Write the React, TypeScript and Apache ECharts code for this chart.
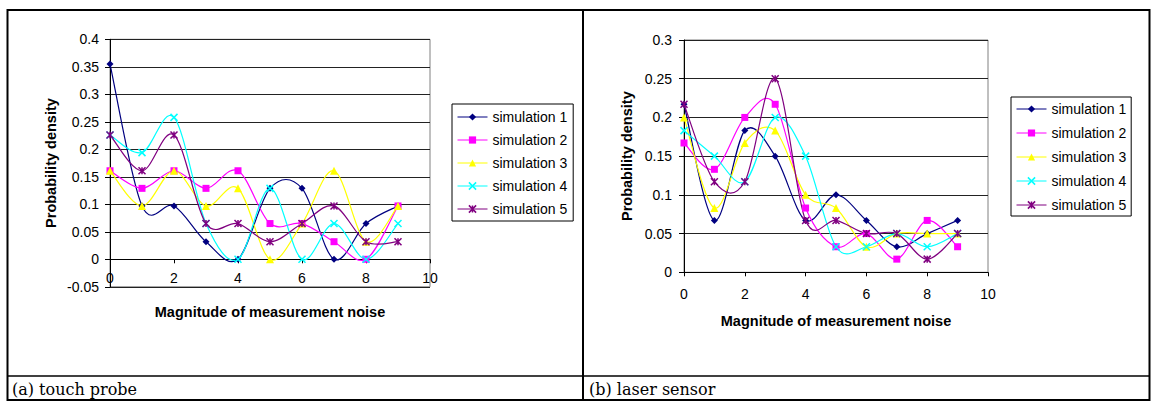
import React, { useEffect, useRef } from 'react';
import * as echarts from 'echarts';

const noiseMagnitudes = [0, 1, 2, 3, 4, 5, 6, 7, 8, 9];
const simulationNames = ['simulation 1', 'simulation 2', 'simulation 3', 'simulation 4', 'simulation 5'];

// (a) touch probe
const touchSim1 = [0.355, 0.097, 0.097, 0.032, 0, 0.129, 0.129, 0, 0.065, 0.097];
const touchSim2 = [0.161, 0.129, 0.161, 0.129, 0.161, 0.065, 0.065, 0.032, 0, 0.097];
const touchSim3 = [0.161, 0.097, 0.161, 0.097, 0.129, 0, 0.065, 0.161, 0.032, 0.097];
const touchSim4 = [0.226, 0.194, 0.258, 0.065, 0, 0.129, 0, 0.065, 0, 0.065];
const touchSim5 = [0.226, 0.161, 0.226, 0.065, 0.065, 0.032, 0.065, 0.097, 0.032, 0.032];

// (b) laser sensor
const laserSim1 = [0.217, 0.067, 0.183, 0.15, 0.067, 0.1, 0.067, 0.033, 0.05, 0.067];
const laserSim2 = [0.167, 0.133, 0.2, 0.217, 0.083, 0.033, 0.05, 0.017, 0.067, 0.033];
const laserSim3 = [0.2, 0.083, 0.167, 0.183, 0.1, 0.083, 0.033, 0.05, 0.05, 0.05];
const laserSim4 = [0.183, 0.15, 0.117, 0.2, 0.15, 0.033, 0.033, 0.05, 0.033, 0.05];
const laserSim5 = [0.217, 0.117, 0.117, 0.25, 0.067, 0.067, 0.05, 0.05, 0.017, 0.05];

const touchSeries = [touchSim1, touchSim2, touchSim3, touchSim4, touchSim5];
const laserSeries = [laserSim1, laserSim2, laserSim3, laserSim4, laserSim5];

const xAxisTitle = 'Magnitude of measurement noise';
const yAxisTitle = 'Probability density';
const captions = ['(a) touch probe', '(b) laser sensor'];

const colors = ['#000080', '#FF00FF', '#FFFF00', '#00FFFF', '#800080'];
const X_PATH = 'path://M0,0L8,8M8,0L0,8';
const STAR_PATH = 'path://M0,0L8,8M8,0L0,8M4,0L4,8';
const symbols = ['diamond', 'rect', 'triangle', X_PATH, STAR_PATH];
const symbolSizes = [7, 7, 8, 7, 7];
const strokeOnly = [false, false, false, true, true];

const FONT = '"Liberation Sans", Arial, sans-serif';

function curveSeries(values: number[], color: string, axisIndex: number) {
  return {
    type: 'custom',
    xAxisIndex: axisIndex,
    yAxisIndex: axisIndex,
    silent: true,
    z: 2,
    data: noiseMagnitudes.map((x, i) => [x, values[i]]),
    encode: { x: 0, y: 1 },
    renderItem: (params: any, api: any) => {
      const i = params.dataIndexInside;
      const n = params.dataInsideLength;
      if (i >= n - 1) return null;
      const pt = (j: number) => {
        const k = Math.max(0, Math.min(n - 1, j));
        return api.coord([api.value(0, k), api.value(1, k)]);
      };
      const p0 = pt(i - 1);
      const p1 = pt(i);
      const p2 = pt(i + 1);
      const p3 = pt(i + 2);
      const c1 = [p1[0] + (p2[0] - p0[0]) / 6, p1[1] + (p2[1] - p0[1]) / 6];
      const c2 = [p2[0] - (p3[0] - p1[0]) / 6, p2[1] - (p3[1] - p1[1]) / 6];
      return {
        type: 'bezierCurve',
        shape: {
          x1: p1[0], y1: p1[1], x2: p2[0], y2: p2[1],
          cpx1: c1[0], cpy1: c1[1], cpx2: c2[0], cpy2: c2[1],
        },
        style: { stroke: color, lineWidth: 1.2, fill: 'none' },
      };
    },
  };
}

function markerSeries(values: number[], k: number, axisIndex: number) {
  const color = colors[k];
  return {
    type: 'line',
    name: simulationNames[k],
    xAxisIndex: axisIndex,
    yAxisIndex: axisIndex,
    data: noiseMagnitudes.map((x, i) => [x, values[i]]),
    symbol: symbols[k],
    symbolSize: symbolSizes[k],
    showAllSymbol: true,
    clip: false,
    z: 3,
    lineStyle: { color, width: 1, opacity: 0 },
    itemStyle: strokeOnly[k]
      ? { color, borderColor: color, borderWidth: 1.5 }
      : { color, borderWidth: 0 },
    emphasis: { disabled: true },
  };
}

const legendData = simulationNames.map((name, k) => ({
  name,
  lineStyle: { color: colors[k], width: 1, opacity: 1, type: 'solid' },
  itemStyle: strokeOnly[k]
    ? { color: colors[k], borderColor: colors[k], borderWidth: 1.5 }
    : { color: colors[k], borderWidth: 0 },
}));

const labelFormatter = (v: number) => String(Math.round(v * 100) / 100);

function xAxisOf(gridIndex: number, offset: number, nameGap: number, margin: number) {
  return {
    gridIndex,
    type: 'value',
    min: 0,
    max: 10,
    interval: 2,
    offset,
    name: xAxisTitle,
    nameLocation: 'middle',
    nameGap,
    nameTextStyle: { fontWeight: 'bold', fontSize: 14.5, fontFamily: FONT, color: '#000' },
    axisLine: { show: true, onZero: false, lineStyle: { color: '#000', width: 1 } },
    axisTick: { show: true, length: 4, lineStyle: { color: '#000' } },
    axisLabel: { color: '#000', fontSize: 14, fontFamily: FONT, margin },
    splitLine: { show: false },
  };
}

function yAxisOf(gridIndex: number, min: number, max: number, nameGap: number, margin: number) {
  return {
    gridIndex,
    type: 'value',
    min,
    max,
    interval: 0.05,
    name: yAxisTitle,
    nameLocation: 'middle',
    nameGap,
    nameTextStyle: { fontWeight: 'bold', fontSize: 14.5, fontFamily: FONT, color: '#000' },
    axisLine: { show: true, onZero: false, lineStyle: { color: '#000', width: 1 } },
    axisTick: { show: true, length: 5, lineStyle: { color: '#000' } },
    axisLabel: { color: '#000', fontSize: 14, fontFamily: FONT, margin, formatter: labelFormatter },
    splitLine: { show: true, lineStyle: { color: '#222', width: 1 } },
  };
}

function legendOf(left: number, top: number, itemGap: number, padding: number[]) {
  return {
    orient: 'vertical',
    left,
    top,
    itemGap,
    itemWidth: 30,
    itemHeight: 9,
    padding,
    borderColor: '#000',
    borderWidth: 1,
    backgroundColor: '#fff',
    selectedMode: false,
    textStyle: { fontSize: 14, fontFamily: FONT, color: '#000' },
    data: legendData,
  };
}

export default function App() {
  const ref = useRef<HTMLDivElement>(null);

  useEffect(() => {
    if (!ref.current) return;
    const chart = echarts.init(ref.current, null, { renderer: 'svg' });

    const series: any[] = [];
    [touchSeries, laserSeries].forEach((set, c) => {
      set.forEach((vals, k) => series.push(curveSeries(vals, colors[k], c)));
    });
    [touchSeries, laserSeries].forEach((set, c) => {
      set.forEach((vals, k) => series.push(markerSeries(vals, k, c)));
    });

    chart.setOption({
      animation: false,
      backgroundColor: '#fff',
      grid: [
        { left: 110, top: 39.3, width: 320, height: 247.5, show: true, borderColor: '#808080', borderWidth: 1, backgroundColor: 'transparent' },
        { left: 684, top: 40, width: 304, height: 232.3, show: true, borderColor: '#808080', borderWidth: 1, backgroundColor: 'transparent' },
      ],
      // left chart: the x axis crosses at y = 0, one 0.05 step (247.5 / 9 px) above the plot bottom
      xAxis: [xAxisOf(0, -27.5, 45, 12), xAxisOf(1, 0, 41, 15)],
      yAxis: [yAxisOf(0, -0.05, 0.4, 52, 11), yAxisOf(1, 0, 0.3, 50, 12)],
      legend: [legendOf(452, 104, 9, [6, 6, 5, 5]), legendOf(1011, 97, 10, [5, 5, 4, 5])],
      series,
      graphic: [
        { type: 'rect', silent: true, z: 100, shape: { x: 7.5, y: 10, width: 1142, height: 390 }, style: { fill: 'none', stroke: '#000', lineWidth: 2 } },
        { type: 'line', silent: true, z: 100, shape: { x1: 583, y1: 10, x2: 583, y2: 400 }, style: { stroke: '#000', lineWidth: 2 } },
        { type: 'line', silent: true, z: 100, shape: { x1: 7.5, y1: 376, x2: 1149.5, y2: 376 }, style: { stroke: '#000', lineWidth: 1.5 } },
        { type: 'text', silent: true, z: 100, x: 12, y: 389, style: { text: captions[0], fill: '#000', font: '16px "DejaVu Serif", serif', verticalAlign: 'middle' } },
        { type: 'text', silent: true, z: 100, x: 589, y: 389, style: { text: captions[1], fill: '#000', font: '16px "DejaVu Serif", serif', verticalAlign: 'middle' } },
      ],
    });

    return () => chart.dispose();
  }, []);

  return <div ref={ref} style={{ position: 'absolute', left: 0, top: 0, width: 1152, height: 401 }} />;
}
